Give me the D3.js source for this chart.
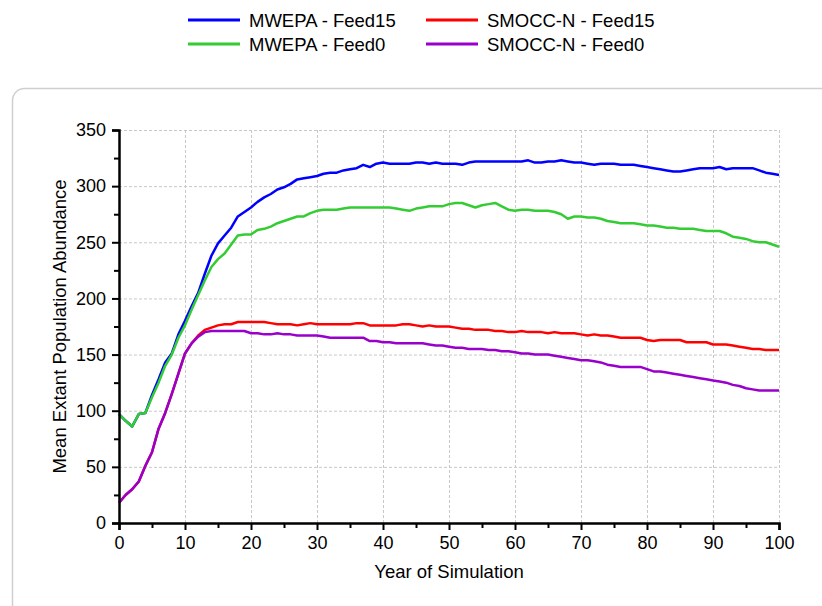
<!DOCTYPE html>
<html>
<head>
<meta charset="utf-8">
<script src="https://cdn.jsdelivr.net/npm/d3@7"></script>
<style>
html,body{margin:0;padding:0;background:#fff;}
svg{display:block;font-family:"Liberation Sans",Arial,sans-serif;}
</style>
</head>
<body>
<div id="chart"></div>
<script>
(function(){

const width = 822;
const height = 606;
const margin = {top:130,right:43,bottom:83,left:119};

// years 0..100
const years = d3.range(0,101);

const seriesNames = ["MWEPA - Feed15","SMOCC-N - Feed15","MWEPA - Feed0","SMOCC-N - Feed0"];
const seriesColors = ["#0000ff","#ff0000","#33cc33","#9900cc"];

const mwepaFeed15 = [97,91,86,97,98,114,128,143,151,168,180,193,205,222,238,249,256,263,273,277,
281,286,290,293,297,299,302,306,307,308,309,311,312,312,314,315,316,319,317,320,
321,320,320,320,320,321,321,320,321,320,320,320,319,321,322,322,322,322,322,322,
322,322,323,321,321,322,322,323,322,321,321,320,319,320,320,320,319,319,319,318,
317,316,315,314,313,313,314,315,316,316,316,317,315,316,316,316,316,314,312,311,310];

const smoccFeed15 = [18,25,30,37,51,63,84,98,115,133,151,160,167,172,174,176,177,177,179,179,
179,179,179,178,177,177,177,176,177,178,177,177,177,177,177,177,178,178,176,176,
176,176,176,177,177,176,175,176,175,175,175,174,173,173,172,172,172,171,171,170,
170,171,170,170,170,169,170,169,169,169,168,167,168,167,167,166,165,165,165,165,
163,162,163,163,163,163,161,161,161,161,159,159,159,158,157,156,155,155,154,154,154];

const mwepaFeed0 = [97,91,86,97,98,112,125,140,150,165,176,190,203,216,228,235,240,248,256,257,
257,261,262,264,267,269,271,273,273,276,278,279,279,279,280,281,281,281,281,281,
281,281,280,279,278,280,281,282,282,282,284,285,285,283,281,283,284,285,282,279,
278,279,279,278,278,278,277,275,271,273,273,272,272,271,269,268,267,267,267,266,
265,265,264,263,263,262,262,262,261,260,260,260,258,255,254,253,251,250,250,248,246];

const smoccFeed0 = [18,25,30,37,51,63,84,98,115,133,151,160,166,170,171,171,171,171,171,171,
169,169,168,168,169,168,168,167,167,167,167,166,165,165,165,165,165,165,162,162,
161,161,160,160,160,160,160,159,158,158,157,156,156,155,155,155,154,154,153,153,
152,151,151,150,150,150,149,148,147,146,145,145,144,143,141,140,139,139,139,139,
137,135,135,134,133,132,131,130,129,128,127,126,125,123,122,120,119,118,118,118,118];

const seriesValues = [mwepaFeed15,smoccFeed15,mwepaFeed0,smoccFeed0];

const xMajor = d3.range(0,101,10);
const xMinor = d3.range(5,100,10);
const yMajor = d3.range(0,351,50);
const yMinor = d3.range(25,350,50);

const svg = d3.select("#chart")
.append("svg")
.attr("width",width)
.attr("height",height);

// panel frame
svg.append("rect")
.attr("x",12.5)
.attr("y",88.5)
.attr("width",900)
.attr("height",600)
.attr("rx",12)
.attr("fill","none")
.attr("stroke","#cfcfcf")
.attr("stroke-width",1.5);

const x = d3.scaleLinear()
.domain([0,100])
.range([margin.left,width-margin.right]);

const y = d3.scaleLinear()
.domain([0,350])
.range([height-margin.bottom,margin.top]);

// grid
svg.append("g")
.attr("class","grid")
.attr("transform",`translate(0,${height-margin.bottom})`)
.call(d3.axisBottom(x).tickValues(xMajor.slice(1)).tickSize(-(height-margin.bottom-margin.top)).tickFormat(""))
.call(g=>g.select(".domain").remove());

svg.append("g")
.attr("class","grid")
.attr("transform",`translate(${margin.left},0)`)
.call(d3.axisLeft(y).tickValues(yMajor.slice(1)).tickSize(-(width-margin.right-margin.left)).tickFormat(""))
.call(g=>g.select(".domain").remove());

svg.selectAll(".grid line")
.attr("stroke","#c8c8c8")
.attr("stroke-width",1)
.attr("stroke-dasharray","3,2");

// lines
const line = d3.line()
.x((d,i)=>x(years[i]))
.y(d=>y(d));

svg.selectAll("path.series")
.data(seriesValues)
.enter()
.append("path")
.attr("class","series")
.attr("d",d=>line(d))
.attr("fill","none")
.attr("stroke",(d,i)=>seriesColors[i])
.attr("stroke-width",2.5)
.attr("stroke-linejoin","round");

// axes
svg.append("g")
.attr("transform",`translate(0,${height-margin.bottom})`)
.call(d3.axisBottom(x).tickValues(xMajor).tickSize(7).tickPadding(6).tickFormat(d3.format("d")));

svg.append("g")
.attr("transform",`translate(0,${height-margin.bottom})`)
.call(d3.axisBottom(x).tickValues(xMinor).tickSize(5).tickFormat(""))
.call(g=>g.select(".domain").remove());

svg.append("g")
.attr("transform",`translate(${margin.left},0)`)
.call(d3.axisLeft(y).tickValues(yMajor).tickSize(7).tickPadding(6).tickFormat(d3.format("d")));

svg.append("g")
.attr("transform",`translate(${margin.left},0)`)
.call(d3.axisLeft(y).tickValues(yMinor).tickSize(5).tickFormat(""))
.call(g=>g.select(".domain").remove());

svg.selectAll(".domain")
.attr("stroke","#000")
.attr("stroke-width",2.5);

svg.selectAll(".tick line")
.filter(function(){ return !this.closest(".grid"); })
.attr("stroke","#000")
.attr("stroke-width",2);

svg.selectAll(".tick text")
.attr("font-family","'Liberation Sans',Arial,sans-serif")
.attr("font-size","18px")
.attr("fill","#000");

// x label
svg.append("text")
.attr("x",(margin.left+width-margin.right)/2)
.attr("y",578)
.attr("text-anchor","middle")
.attr("font-size","18.5px")
.text("Year of Simulation");

// y label
svg.append("text")
.attr("transform","rotate(-90)")
.attr("x",-(margin.top+height-margin.bottom)/2)
.attr("y",66)
.attr("text-anchor","middle")
.attr("font-size","18.5px")
.text("Mean Extant Population Abundance");

// legend
const legendX = [188,426];
const legendY = [20,44];

const legend = svg.selectAll("g.legend")
.data(seriesNames)
.enter()
.append("g")
.attr("class","legend")
.attr("transform",(d,i)=>`translate(${legendX[i%2]},${legendY[Math.floor(i/2)]})`);

legend.append("line")
.attr("x1",0)
.attr("x2",52)
.attr("y1",0)
.attr("y2",0)
.attr("stroke",(d,i)=>seriesColors[i])
.attr("stroke-width",3);

legend.append("text")
.attr("x",61)
.attr("y",6.5)
.attr("font-size","18.5px")
.text(d=>d);

})();
</script>
</body>
</html>
